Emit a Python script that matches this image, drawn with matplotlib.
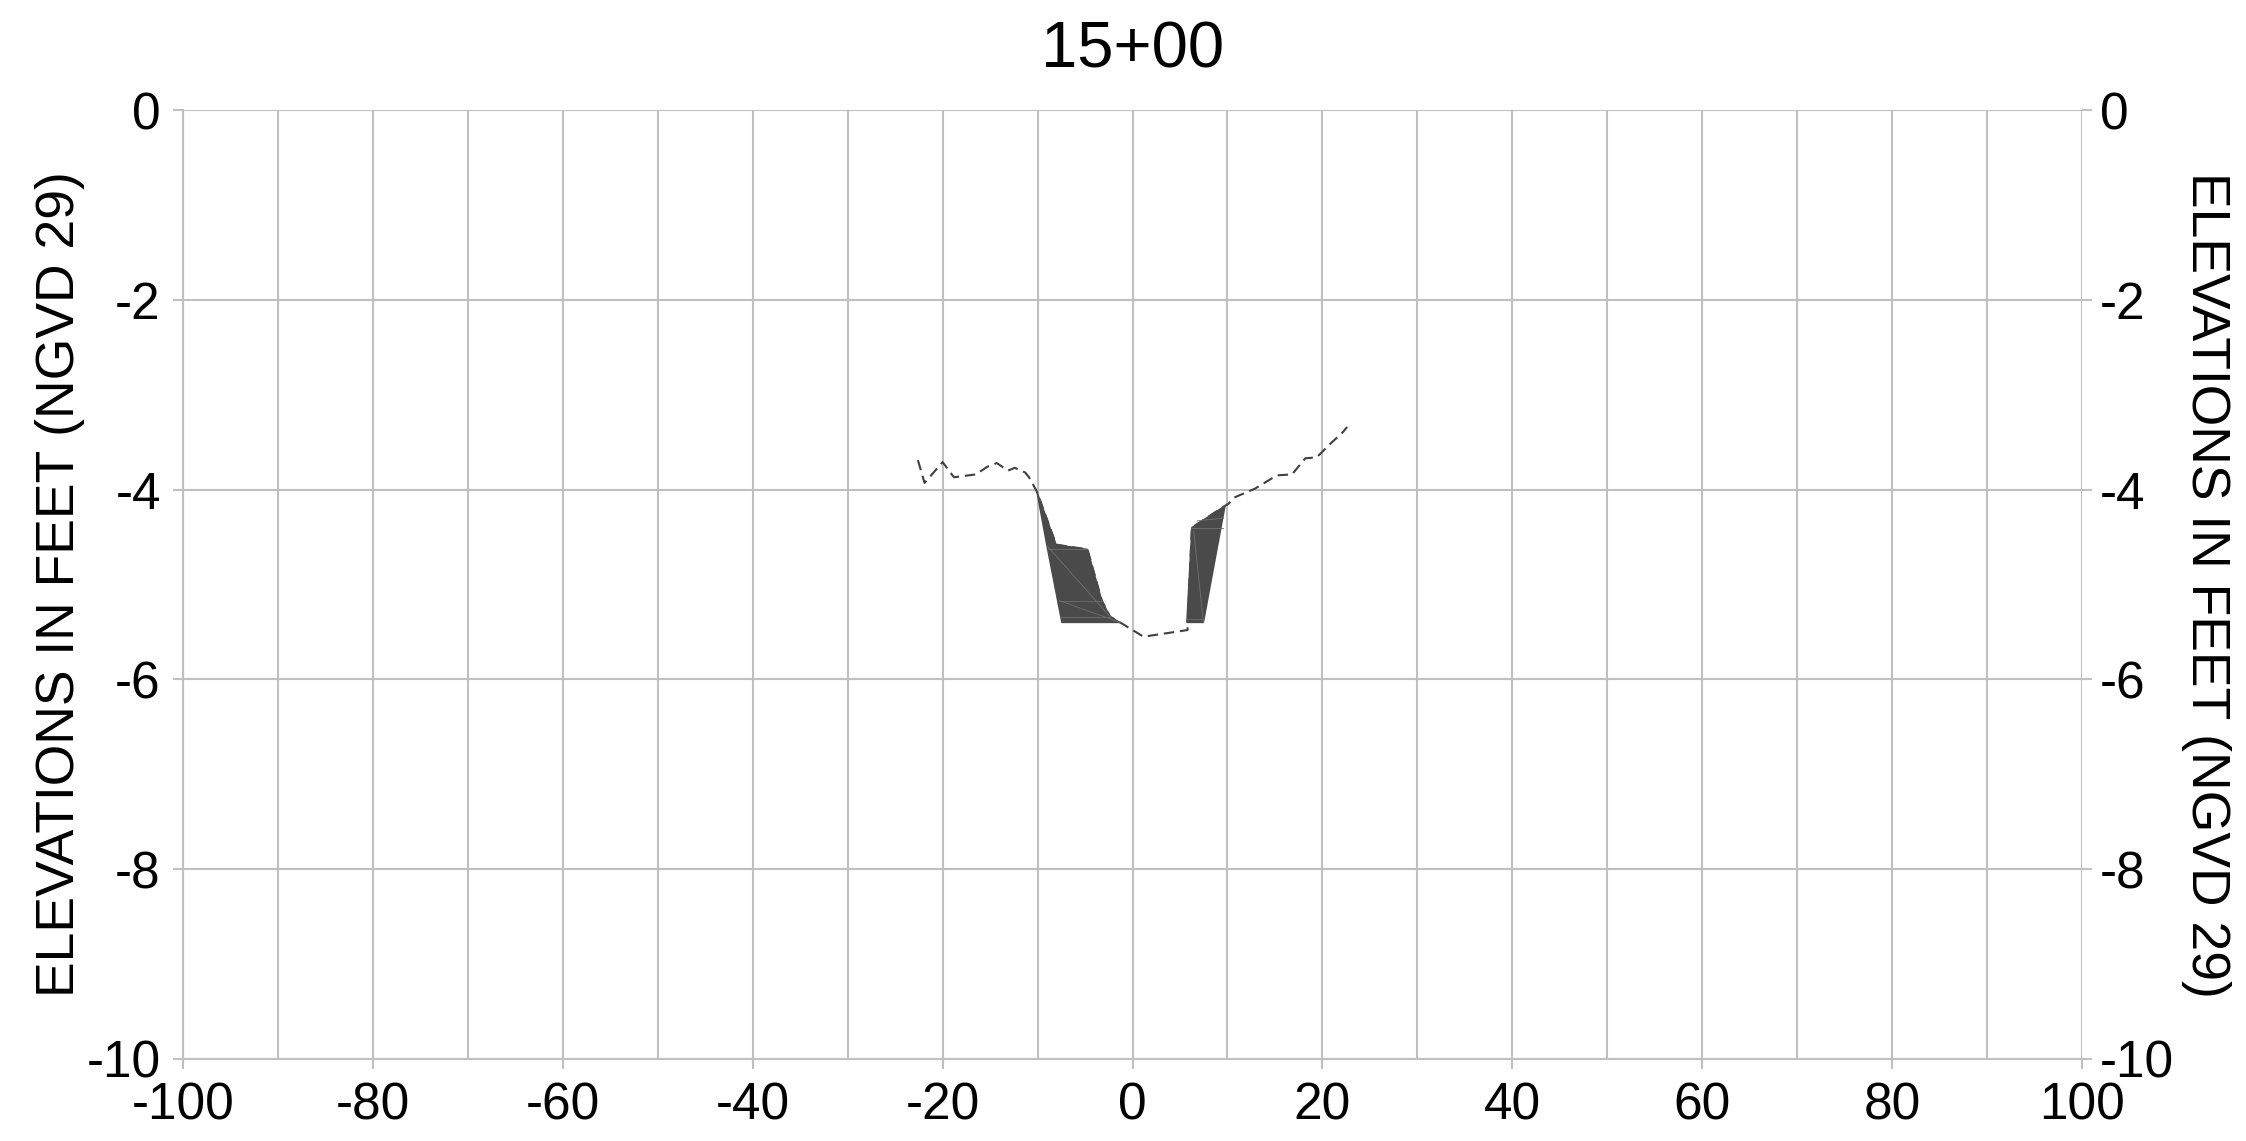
import matplotlib.pyplot as plt
from matplotlib.patches import Polygon

# cross section 15+00 -- existing ground (dashed) and dredge areas (filled)
ground_x = [-22.6, -21.9, -20.0, -18.8, -16.5, -15.3, -14.3, -13.1, -12.4, -11.3, -10.9, -10.07,
            -8.04, -4.74, -3.23, -2.35, -1.30, 1.16, 5.79, 6.25, 9.75, 10.1, 10.8, 12.9, 15.2,
            16.8, 18.2, 19.4, 20.8, 22.2, 22.6]
ground_y = [-3.69, -3.93, -3.71, -3.87, -3.84, -3.76, -3.72, -3.80, -3.77, -3.82, -3.87, -4.02,
            -4.58, -4.63, -5.17, -5.34, -5.40, -5.55, -5.48, -4.40, -4.17, -4.15, -4.08, -3.99, -3.85,
            -3.84, -3.67, -3.66, -3.52, -3.39, -3.34]

left_cut_x = [-10.07, -8.04, -4.74, -3.23, -2.35, -1.30, -7.44, -9.02]
left_cut_y = [-4.02, -4.58, -4.63, -5.17, -5.34, -5.40, -5.40, -4.59]
right_cut_x = [5.72, 6.25, 9.75, 7.47]
right_cut_y = [-5.40, -4.40, -4.17, -5.40]

# faint mesh edges inside the filled areas
mesh_lines = [
    ([-9.02, -2.35], [-4.59, -5.34]),
    ([-8.9, -4.74], [-4.63, -4.63]),
    ([-7.7, -3.23], [-5.17, -5.17]),
    ([-7.7, -1.30], [-5.17, -5.40]),
    ([-7.5, -2.35], [-5.34, -5.34]),
    ([6.45, 7.47], [-4.44, -5.40]),
    ([6.25, 9.5], [-4.40, -4.40]),
    ([6.8, 9.6], [-4.33, -4.30]),
    ([5.73, 7.47], [-5.36, -5.36]),
]

x_ticks = list(range(-100, 101, 20))
y_ticks = list(range(-10, 1, 2))
title = '15+00'
ylabel = 'ELEVATIONS IN FEET (NGVD 29)'

plt.rcParams['font.family'] = ['Liberation Sans', 'DejaVu Sans']
plt.rcParams['axes.unicode_minus'] = False

grid_c = '#c0c0c0'
fig = plt.figure(figsize=(22.46, 11.41), dpi=100)
ax = fig.add_axes([183 / 2246, 1 - 1059 / 1141, 1899 / 2246, 949 / 1141])

ax.set_xlim(-100, 100)
ax.set_ylim(-10, 0)
ax.set_xticks(x_ticks)
ax.set_xticks(range(-100, 101, 10), minor=True)
ax.set_yticks(y_ticks)
ax.grid(True, which='both', color=grid_c, lw=1.5, zorder=0)
ax.tick_params(which='minor', length=0)
ax.tick_params(which='major', length=7, width=1.5, color=grid_c, labelsize=37)
ax.tick_params(axis='x', pad=9)
ax.tick_params(axis='y', pad=9)
for s in ax.spines.values():
    s.set_color(grid_c)
    s.set_linewidth(1.5)
ax.spines['top'].set_visible(False)
ax.spines['right'].set_visible(False)
ax.set_axisbelow(True)

ax.plot(ground_x, ground_y, color='#404040', lw=1.5, dashes=(5, 2.8), zorder=2)

for px, py in [(left_cut_x, left_cut_y), (right_cut_x, right_cut_y)]:
    ax.add_patch(Polygon(list(zip(px, py)), closed=True, facecolor='#4a4a4a',
                         edgecolor='#4a4a4a', lw=1, zorder=3))
for mx, my in mesh_lines:
    ax.plot(mx, my, color='#707070', lw=0.6, zorder=4)

ax.set_ylabel(ylabel, fontsize=38.5, va='center')
ax.yaxis.set_label_coords((60 - 183) / 1899, 0.5)

ax2 = ax.twinx()
ax2.set_ylim(-10, 0)
ax2.set_yticks(y_ticks)
ax2.tick_params(length=7, width=1.5, color=grid_c, labelsize=37, pad=6)
for s in ax2.spines.values():
    s.set_visible(False)
ax2.set_ylabel(ylabel, fontsize=38.5, rotation=270, va='center')
ax2.yaxis.set_label_coords((2206 - 183) / 1899, 0.5)

fig.text(0.5 * (183 + 2082) / 2246, 1 - 50 / 1141, title, fontsize=47, ha='center', va='center')

fig.savefig('out.png', dpi=100)
